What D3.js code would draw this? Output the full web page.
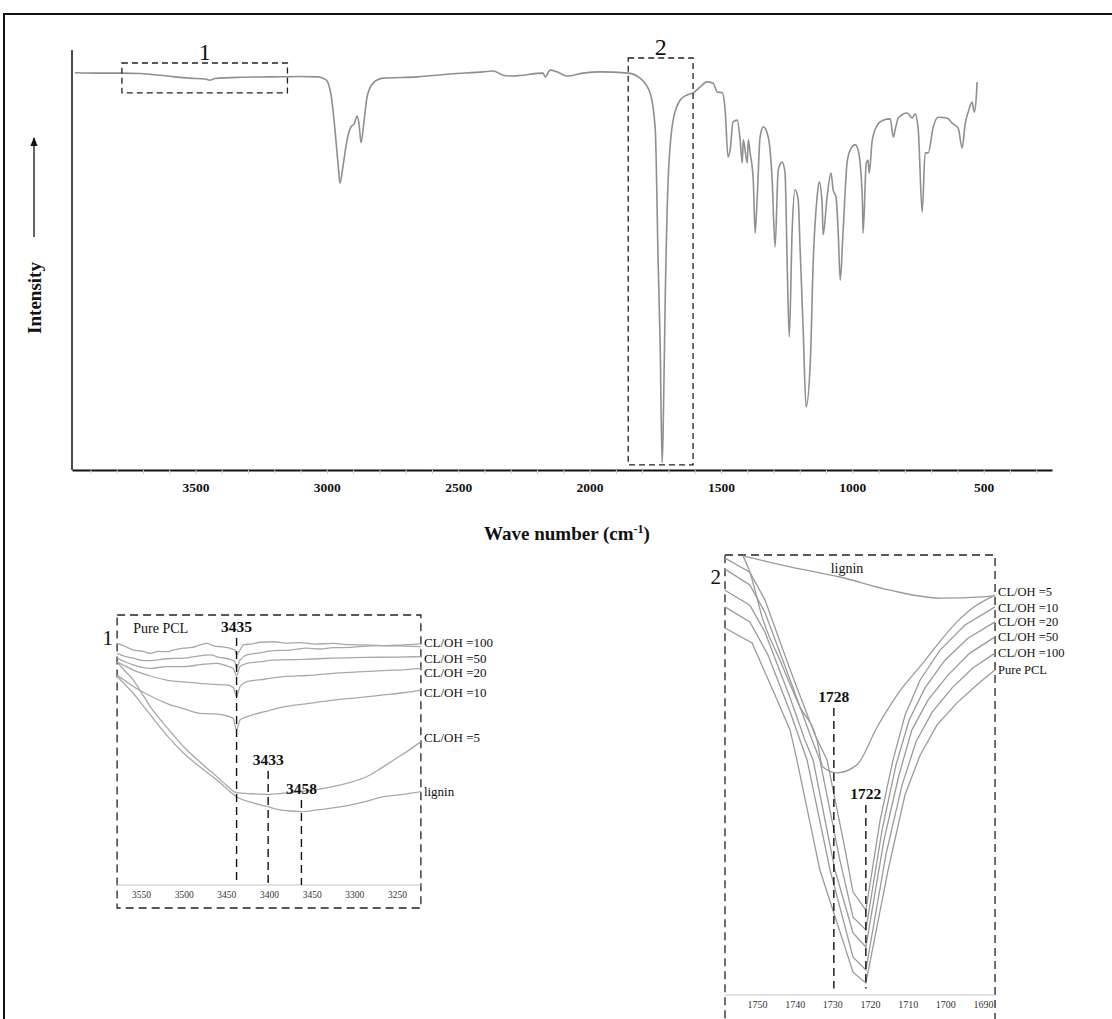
<!DOCTYPE html>
<html><head><meta charset="utf-8">
<script src="https://cdn.jsdelivr.net/npm/d3@7"></script>
<style>body{margin:0;background:#fff}svg{display:block}text{font-family:"Liberation Serif","Times New Roman",serif}</style>
</head><body><svg id="c" width="1112" height="1019"></svg>
<script>
// ---------------- DATA ----------------
// main FTIR spectrum: [wavenumber cm-1, intensity %]
const mainSpectrum = [[3959,94.6],[3863,94.5],[3787,94.5],[3711,94.4],[3635,94.0],[3578,93.6],[3521,93.3],[3464,93.1],[3445,92.8],[3426,93.2],[3330,93.5],[3216,93.6],[3102,93.7],[3033,93.6],[3003,92.9],[2984,89.3],[2969,81.0],[2957,72.6],[2950,68.3],[2938,72.6],[2923,78.6],[2908,81.7],[2896,82.4],[2885,84.3],[2877,82.1],[2870,77.9],[2858,83.3],[2847,88.8],[2824,92.1],[2786,93.3],[2657,93.6],[2531,94.3],[2405,94.8],[2367,95.0],[2329,94.0],[2291,93.8],[2177,94.5],[2169,93.6],[2150,95.2],[2124,94.8],[2086,93.8],[2025,94.5],[1960,94.8],[1853,94.5],[1808,93.3],[1770,89.8],[1750,81.0],[1739,49.3],[1731,28.6],[1724,1.7],[1720,9.5],[1712,41.2],[1701,69.0],[1682,83.3],[1655,88.1],[1629,89.3],[1606,89.8],[1579,91.2],[1553,92.4],[1530,92.1],[1514,90.0],[1495,89.8],[1484,85.7],[1473,74.5],[1465,76.2],[1454,82.9],[1438,83.3],[1427,78.6],[1419,73.1],[1415,78.6],[1400,73.1],[1396,78.6],[1389,75.5],[1377,69.0],[1370,56.4],[1362,65.0],[1351,79.3],[1339,81.7],[1320,79.3],[1305,69.0],[1294,53.1],[1282,71.4],[1267,73.3],[1256,70.7],[1248,49.3],[1240,31.7],[1229,57.1],[1218,66.7],[1206,64.3],[1199,53.1],[1187,33.3],[1176,15.0],[1160,25.5],[1149,49.3],[1134,65.0],[1126,68.6],[1115,63.6],[1111,56.0],[1096,65.0],[1081,70.7],[1073,66.7],[1062,65.0],[1054,57.1],[1046,45.2],[1035,57.1],[1020,73.1],[1008,76.2],[989,77.4],[978,76.2],[962,65.0],[959,56.4],[947,73.1],[940,73.8],[936,70.7],[924,78.6],[905,82.1],[883,83.3],[856,83.6],[844,79.3],[837,81.0],[825,83.8],[791,85.0],[772,83.8],[761,84.8],[749,81.0],[734,61.4],[723,75.5],[711,75.5],[692,81.7],[673,84.0],[639,83.8],[620,82.6],[597,81.4],[582,76.7],[570,82.6],[559,85.2],[544,87.6],[536,85.2],[529,88.1],[525,92.4]];
const mainTicks = [3500,3000,2500,2000,1500,1000,500];
const mainMinorTicks = d3.range(3900, 299, -100);
const zoomBoxes = [
  {label:"1", wn:[3780,3150], val:[96.9,89.8]},
  {label:"2", wn:[1853,1606], val:[98.1,1.2]}
];

// inset 1 (O-H region)
const inset1Ticks = [3550,3500,3450,3400,3350,3300,3250];
const inset1TickLabels = ["3550","3500","3450","3400","3450","3300","3250"];
const inset1Domain = [3578,3222];
const pcl1 = [[3578,89.5],[3568,88.3],[3559,87.0],[3549,86.6],[3539,85.8],[3530,86.5],[3520,86.4],[3510,87.2],[3500,87.7],[3490,88.0],[3481,88.9],[3473,89.5],[3465,88.6],[3455,88.2],[3446,87.7],[3440,87.0],[3438,85.2],[3434,87.0],[3430,88.9],[3420,89.3],[3410,89.9],[3395,90.1],[3380,89.6],[3364,89.8],[3345,89.2],[3325,89.5],[3305,89.0],[3286,88.9],[3260,88.6],[3240,88.5],[3222,88.3]];
const r100_1 = [[3578,85.8],[3568,84.6],[3559,84.0],[3549,83.2],[3539,83.1],[3520,83.8],[3500,84.0],[3485,84.7],[3469,85.2],[3458,84.3],[3446,83.6],[3440,82.7],[3438,80.2],[3434,83.3],[3426,85.2],[3410,86.0],[3395,86.8],[3375,87.0],[3356,87.7],[3340,87.4],[3325,87.9],[3305,88.0],[3286,88.5],[3250,88.8],[3222,89.3]];
const r50_1 = [[3578,84.0],[3568,82.6],[3559,81.5],[3549,80.6],[3539,80.2],[3520,80.9],[3500,80.9],[3480,81.6],[3461,82.1],[3450,81.2],[3442,80.2],[3438,77.5],[3434,80.9],[3426,82.1],[3410,82.7],[3395,83.3],[3360,83.6],[3325,84.0],[3286,84.3],[3250,84.4],[3222,84.6]];
const r20_1 = [[3578,82.7],[3568,81.0],[3559,79.6],[3540,77.5],[3520,75.9],[3500,75.2],[3481,74.7],[3465,74.3],[3450,74.1],[3442,73.2],[3438,69.8],[3434,73.5],[3426,75.3],[3405,76.2],[3383,77.2],[3355,77.6],[3325,78.4],[3295,78.9],[3266,79.4],[3240,79.8],[3222,80.2]];
const r10_1 = [[3578,77.8],[3568,75.5],[3559,73.5],[3540,70.2],[3520,67.3],[3500,65.3],[3481,63.6],[3465,63.4],[3454,63.0],[3442,61.7],[3438,57.4],[3434,61.1],[3426,62.3],[3405,64.2],[3383,66.0],[3355,67.2],[3325,68.5],[3295,69.4],[3266,70.4],[3240,71.3],[3222,72.2]];
const r5_1 = [[3578,82.7],[3568,79.0],[3559,75.9],[3549,71.0],[3539,66.0],[3520,58.5],[3500,51.2],[3480,45.3],[3461,40.1],[3450,37.0],[3438,34.2],[3420,33.8],[3401,33.6],[3383,34.0],[3364,34.6],[3345,35.3],[3325,36.4],[3305,38.0],[3286,40.1],[3270,43.0],[3254,46.3],[3238,49.5],[3222,53.1]];
const lignin1 = [[3578,77.2],[3568,74.0],[3559,71.0],[3549,67.0],[3539,63.0],[3520,55.5],[3500,48.8],[3480,43.5],[3461,38.9],[3450,35.8],[3438,32.7],[3420,30.5],[3401,29.0],[3390,28.0],[3379,27.5],[3362,27.2],[3344,27.8],[3325,28.6],[3305,29.6],[3286,31.0],[3266,32.7],[3245,33.5],[3222,34.6]];
const inset1Names = [null,"CL/OH =100","CL/OH =50","CL/OH =20","CL/OH =10","CL/OH =5","lignin"];
const inset1Data = [pcl1, r100_1, r50_1, r20_1, r10_1, r5_1, lignin1];
const inset1Marks = [{text:"3435", wn:3438, top:91.5},{text:"3433", wn:3401, top:42.2},{text:"3458", wn:3362, top:31.5}];

// inset 2 (C=O region)
const inset2Ticks = [1750,1740,1730,1720,1710,1700,1690];
const inset2Domain = [1758.5,1686.8];
const r10_2 = [[1758.5,99.3],[1751.9,96.1],[1747.9,89.8],[1741.2,73.9],[1734.6,59.1],[1731.4,53.4],[1726.6,33.0],[1724.5,23.4],[1721.1,19.3],[1717.3,39.8],[1713.9,53.4],[1710.7,63.6],[1706.7,71.6],[1701.4,78.4],[1694.8,84.1],[1686.8,88.2]];
const r20_2 = [[1758.5,96.8],[1751.9,93.2],[1747.9,87.0],[1741.2,71.6],[1735.4,58.0],[1733.3,53.4],[1728.0,30.7],[1724.5,17.7],[1721.1,14.8],[1716.8,37.5],[1713.1,52.3],[1709.6,62.5],[1705.4,69.8],[1700.1,76.1],[1694.0,81.1],[1686.8,84.8]];
const r50_2 = [[1758.5,92.0],[1751.9,88.6],[1747.9,82.5],[1741.2,67.5],[1737.3,58.0],[1735.1,53.4],[1729.3,28.4],[1724.5,14.1],[1721.1,10.9],[1716.3,35.2],[1712.3,50.0],[1708.9,60.2],[1704.6,67.0],[1699.3,72.7],[1693.5,77.7],[1686.8,81.4]];
const r100_2 = [[1758.5,88.2],[1751.9,84.8],[1747.1,77.3],[1741.2,64.3],[1738.6,58.0],[1736.7,53.4],[1730.6,28.4],[1724.5,8.6],[1721.1,5.7],[1715.8,31.8],[1711.5,47.7],[1707.8,57.5],[1703.5,64.3],[1698.2,69.8],[1692.7,74.3],[1686.8,77.7]];
const pcl2 = [[1758.5,83.4],[1751.3,80.0],[1745.8,69.3],[1741.2,60.2],[1739.4,53.4],[1733.3,28.4],[1724.5,5.2],[1721.1,2.7],[1715.2,28.4],[1710.7,45.5],[1706.7,54.5],[1702.2,61.4],[1696.9,66.4],[1691.6,70.5],[1686.8,73.9]];
const r5_2 = [[1753.7,99.8],[1751.9,96.1],[1748.4,85.2],[1743.9,76.1],[1738.6,65.5],[1734.1,58.0],[1732.5,51.8],[1728.8,50.5],[1723.5,52.3],[1718.1,60.9],[1712.8,68.2],[1705.9,75.5],[1696.9,84.8],[1692.7,88.0],[1686.8,90.9]];
const lignin2 = [[1753.7,99.8],[1741.2,97.3],[1728.0,95.0],[1714.7,92.0],[1701.4,90.2],[1690.0,90.5],[1686.8,90.7]];
const inset2Names = ["CL/OH =5","CL/OH =10","CL/OH =20","CL/OH =50","CL/OH =100","Pure PCL",null];
const inset2Data = [r5_2, r10_2, r20_2, r50_2, r100_2, pcl2, lignin2];
const inset2Marks = [{text:"1728", wn:1729.6, top:65.2},{text:"1722", wn:1721.1, top:43.2}];

// ---------------- DRAW ----------------
const FONT = '"Liberation Serif","Times New Roman",serif';
const svg = d3.select("#c");
svg.append("rect").attr("x",4).attr("y",14).attr("width",1130).attr("height",1030)
  .attr("fill","none").attr("stroke","#111").attr("stroke-width",2);

svg.append("defs").append("marker").attr("id","arr").attr("viewBox","0 0 10 10").attr("refX",9).attr("refY",5)
  .attr("markerWidth",7).attr("markerHeight",7).attr("orient","auto")
  .append("path").attr("d","M0,1 L10,5 L0,9 Z").attr("fill","#111");

// main chart
const mx = d3.scaleLinear().domain([3970,240]).range([72,1052]);
const my = d3.scaleLinear().domain([0,100]).range([470,50]);

svg.append("line").attr("x1",mx(3970)).attr("x2",mx(3970)).attr("y1",my(100)).attr("y2",my(0))
  .attr("stroke","#111").attr("stroke-width",1.5);

const minor = svg.append("g").attr("transform",`translate(0,${my(0)})`)
  .call(d3.axisBottom(mx).tickValues(mainMinorTicks).tickSize(4).tickSizeOuter(0).tickFormat(""));
minor.select(".domain").attr("stroke","#111").attr("stroke-width",1.8);
minor.selectAll(".tick line").attr("stroke","#c8c8c8");

const major = svg.append("g").attr("transform",`translate(0,${my(0)})`)
  .call(d3.axisBottom(mx).tickValues(mainTicks).tickSize(0).tickPadding(12).tickFormat(d3.format("d")));
major.select(".domain").remove();
major.selectAll("text").attr("font-size",13.5).attr("font-weight","bold").attr("fill","#111")
  .style("font-family",FONT);

const mline = d3.line().x(d=>mx(d[0])).y(d=>my(d[1])).curve(d3.curveMonotoneX);
svg.append("path").datum(mainSpectrum).attr("d",mline).attr("fill","none")
  .attr("stroke","#8f8f8f").attr("stroke-width",1.6);

zoomBoxes.forEach(b=>{
  const x0=mx(b.wn[0]), x1=mx(b.wn[1]), y0=my(b.val[0]), y1=my(b.val[1]);
  svg.append("rect").attr("x",x0).attr("y",y0).attr("width",x1-x0).attr("height",y1-y0)
    .attr("fill","none").attr("stroke","#222").attr("stroke-width",1.3).attr("stroke-dasharray","6,4");
  svg.append("text").attr("x",(x0+x1)/2).attr("y",y0-3).attr("text-anchor","middle")
    .attr("font-size",24).attr("fill","#111").text(b.label);
});

// y label + arrow
svg.append("text").attr("transform","translate(41,298) rotate(-90)").attr("text-anchor","middle")
  .attr("font-size",19).attr("font-weight","bold").attr("fill","#111").text("Intensity");
svg.append("line").attr("x1",34).attr("x2",34).attr("y1",237).attr("y2",138)
  .attr("stroke","#111").attr("stroke-width",1.3).attr("marker-end","url(#arr)");

// x title
const xt = svg.append("text").attr("x",567).attr("y",540).attr("text-anchor","middle")
  .attr("font-size",19).attr("font-weight","bold").attr("fill","#111");
xt.append("tspan").text("Wave number (cm");
xt.append("tspan").attr("dy",-7).attr("font-size",12).text("-1");
xt.append("tspan").attr("dy",7).text(")");

// generic inset drawer
function drawInset(o){
  const x = d3.scaleLinear().domain(o.tickDomain).range(o.tickRange);
  const y = d3.scaleLinear().domain([0,100]).range([o.axisY,o.top]);
  const bx0 = x(o.domain[0]), bx1 = x(o.domain[1]);
  svg.append("rect").attr("x",bx0).attr("y",o.top).attr("width",bx1-bx0).attr("height",o.bottom-o.top)
    .attr("fill","none").attr("stroke","#222").attr("stroke-width",1.3).attr("stroke-dasharray","8,5");
  svg.append("line").attr("x1",bx0).attr("x2",bx1).attr("y1",y(0)).attr("y2",y(0))
    .attr("stroke","#c4c4c4").attr("stroke-width",1.2);
  const ax = svg.append("g").attr("transform",`translate(0,${y(0)})`)
    .call(d3.axisBottom(x).tickValues(o.ticks).tickSize(0).tickPadding(6)
      .tickFormat((d,i)=> o.tickLabels ? o.tickLabels[i] : String(d)));
  ax.select(".domain").remove();
  ax.selectAll("text").attr("font-size",o.tickFont).attr("fill","#333").style("font-family",FONT);
  const lin = d3.line().x(d=>x(d[0])).y(d=>y(d[1]));
  o.data.forEach((s,i)=>{
    lin.curve(o.smooth(i) ? d3.curveMonotoneX : d3.curveLinear);
    svg.append("path").datum(s).attr("d",lin).attr("fill","none")
      .attr("stroke",o.lineColor).attr("stroke-width",1.3);
    if(o.names[i]){
      const last = s[s.length-1];
      svg.append("text").attr("x",bx1+3).attr("y",y(last[1])+(o.labelShift[i]||0)).attr("dy","0.35em")
        .attr("font-size",o.labelFont).attr("fill","#111").text(o.names[i]);
    }
  });
  o.marks.forEach(m=>{
    svg.append("line").attr("x1",x(m.wn)).attr("x2",x(m.wn)).attr("y1",y(m.top)).attr("y2",y(o.markEnd))
      .attr("stroke","#111").attr("stroke-width",1.4).attr("stroke-dasharray","8,5");
    svg.append("text").attr("x",x(m.wn)).attr("y",y(m.top)-6).attr("text-anchor","middle")
      .attr("font-size",15.5).attr("font-weight","bold").attr("fill","#111").text(m.text);
  });
  svg.append("text").attr("x",bx0-4).attr("y",o.numY).attr("text-anchor","end")
    .attr("font-size",21).attr("fill","#111").text(o.num);
  return {x,y};
}

const i1 = drawInset({domain:inset1Domain, tickDomain:[3550,3250], tickRange:[141,397],
  top:615, axisY:885, bottom:908, ticks:inset1Ticks, tickLabels:inset1TickLabels, tickFont:9.5,
  names:inset1Names, data:inset1Data, labelShift:[0,-1,1.5,3.5,2,-4.5,0],
  marks:inset1Marks, markEnd:0, lineColor:"#a8a8a8", labelFont:13,
  smooth:()=>true, num:"1", numY:645});
svg.append("text").attr("x",i1.x(3559)).attr("y",633).attr("font-size",14).attr("fill","#111").text("Pure PCL");

const i2 = drawInset({domain:inset2Domain, tickDomain:[1750,1690], tickRange:[757,983],
  top:555, axisY:995, bottom:1030, ticks:inset2Ticks, tickFont:10,
  names:inset2Names, data:inset2Data, labelShift:[-3.5,1,0,0,0,0,0],
  marks:inset2Marks, markEnd:1.5, lineColor:"#9a9a9a", labelFont:12.5,
  smooth:i=> i===0 || i===6, num:"2", numY:584});
svg.append("text").attr("x",i2.x(1726.1)).attr("y",573).attr("text-anchor","middle")
  .attr("font-size",14).attr("fill","#111").text("lignin");
</script></body></html>
